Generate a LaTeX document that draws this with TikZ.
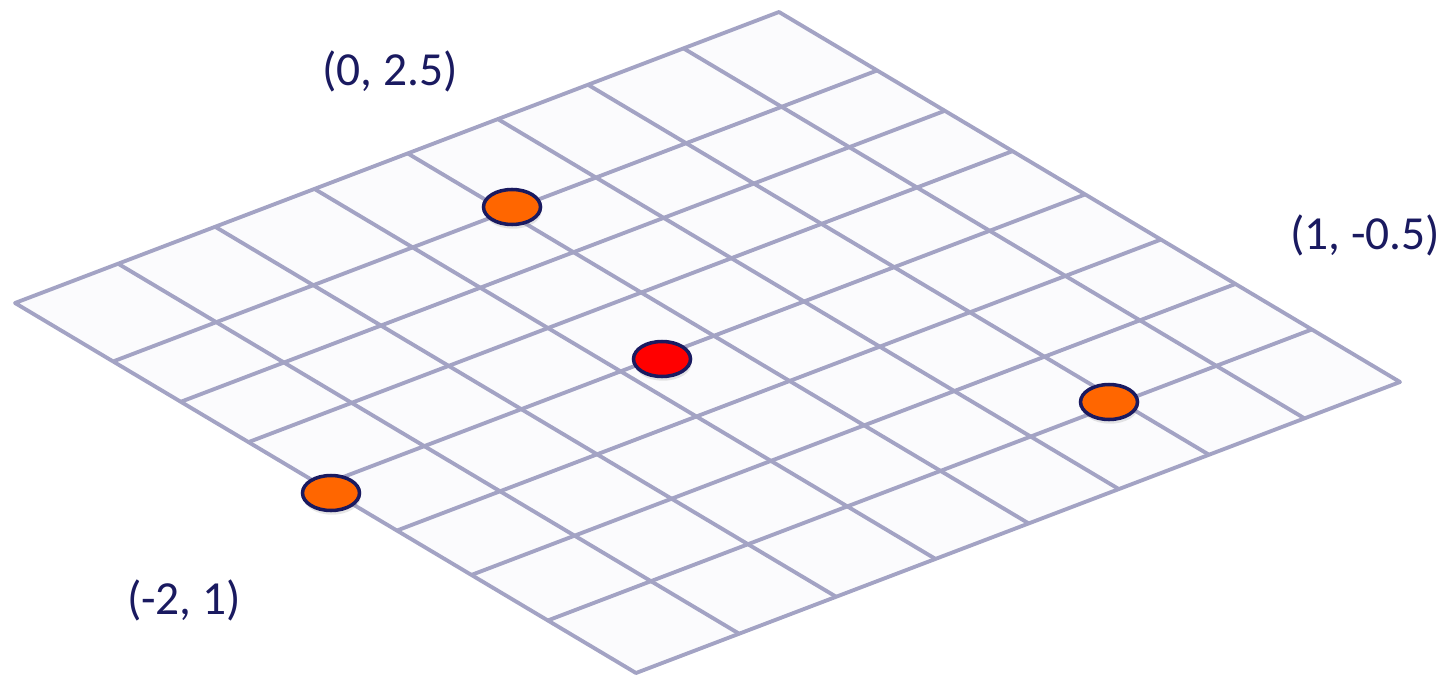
\documentclass[tikz,border=0pt]{standalone}
\usepackage{fontspec}
\setmainfont{Carlito}
\usetikzlibrary{calc,shapes.geometric,shadows}
\definecolor{gridline}{RGB}{163,163,196}
\definecolor{navy}{RGB}{26,26,96}
\definecolor{dotorange}{RGB}{255,102,0}

\begin{document}
\begin{tikzpicture}[x=1cm,y=1cm,
  pt/.style={ellipse,draw=navy,line width=1pt,minimum width=.57cm,minimum height=.35cm,inner sep=0pt,
    drop shadow={opacity=.2,shadow xshift=.3pt,shadow yshift=-1.2pt}},
  lbl/.style={text=navy,inner sep=0pt,font=\fontsize{13.5}{16}\selectfont},
  gridln/.style={gridline,line width=1.1pt}]
\path[use as bounding box] (0,0) rectangle (14.5,6.78);
% corners of the plane
\coordinate (L) at (0.15,3.75);
\coordinate (T) at (7.79,6.66);
\coordinate (R) at (14.00,2.96);
\coordinate (B) at (6.36,0.05);
\fill[white!96!gridline] (L)--(T)--(R)--(B)--cycle;
% columns and rows (first row a bit taller)
\foreach \f in {0.135,0.262,0.392,0.514,0.632,0.750,0.875}
  \draw[gridln] ($(L)!\f!(T)$)--($(B)!\f!(R)$);
\foreach \f in {0.158,0.267,0.376,0.493,0.615,0.735,0.858}
  \draw[gridln] ($(L)!\f!(B)$)--($(T)!\f!(R)$);
\draw[gridln,line join=round] (L)--(T)--(R)--(B)--cycle;

% points
\node[pt,fill=dotorange] (top) at (5.12,4.71) {};
\node[pt,fill=red] (mid) at (6.62,3.19) {};
\node[pt,fill=dotorange] (right) at (11.09,2.76) {};
\node[pt,fill=dotorange] (left) at (3.31,1.85) {};

% labels
\node[lbl] (toplbl) at (3.90,6.07) {(0, 2.5)};
\node[lbl] (rightlbl) at (13.65,4.43) {(1, -0.5)};
\node[lbl] (leftlbl) at (1.84,0.78) {(-2, 1)};
\end{tikzpicture}
\end{document}
